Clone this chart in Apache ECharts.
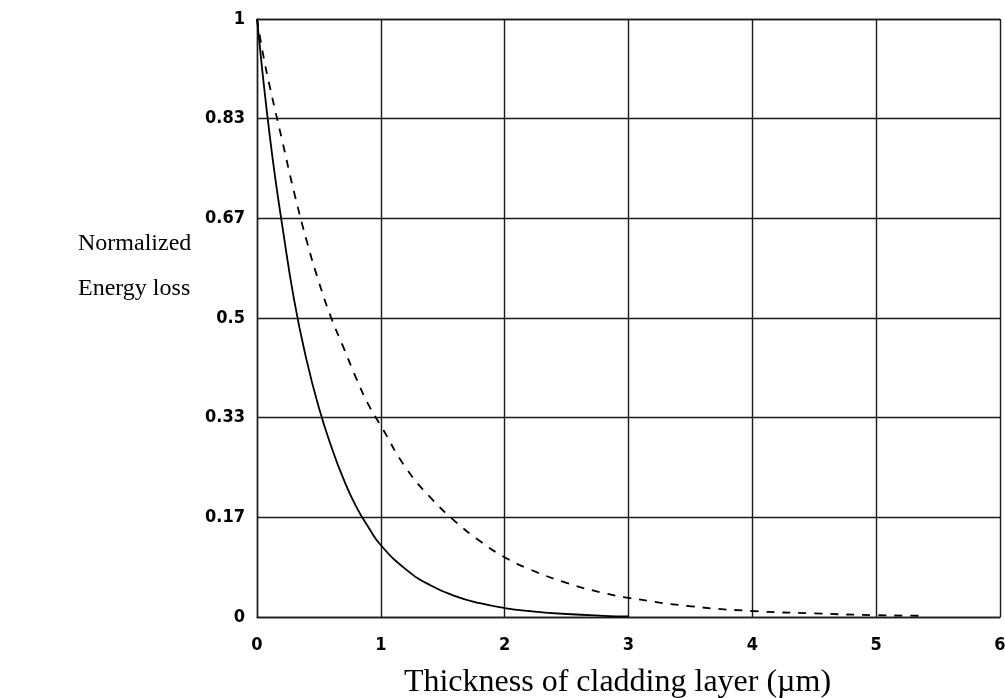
<!DOCTYPE html>
<html>
<head>
<meta charset="utf-8">
<script src="https://cdn.jsdelivr.net/npm/echarts@6/dist/echarts.min.js"></script>
<style>
  html, body { margin: 0; padding: 0; background: #fff; }
</style>
</head>
<body>
<div id="main" style="width: 1005px;height:698px;"></div>
<script>
// thickness of cladding layer (um)
const solidX = [0, 0.02, 0.05, 0.1, 0.15, 0.2, 0.3, 0.4, 0.5, 0.6, 0.7, 0.8, 0.9, 1.0, 1.2, 1.4, 1.6, 1.8, 2.0, 2.2, 2.5, 2.8, 3.0]
const solidY = [1, 0.96, 0.9, 0.81, 0.73, 0.66, 0.53, 0.43, 0.35, 0.285, 0.23, 0.185, 0.15, 0.12, 0.08, 0.053, 0.035, 0.023, 0.015, 0.01, 0.005, 0.002, 0.001]

const dashX = [0, 0.05, 0.1, 0.2, 0.3, 0.4, 0.5, 0.6, 0.7, 0.8, 0.9, 1.0, 1.2, 1.4, 1.6, 1.8, 2.0, 2.2, 2.5, 2.8, 3.0, 3.5, 4.0, 4.5, 5.0, 5.4]
const dashY = [1, 0.94, 0.89, 0.8, 0.71, 0.63, 0.56, 0.5, 0.45, 0.4, 0.355, 0.32, 0.25, 0.2, 0.16, 0.127, 0.1, 0.08, 0.057, 0.04, 0.032, 0.018, 0.01, 0.006, 0.003, 0.002]

const xTicks = [0, 1, 2, 3, 4, 5, 6]
const yTickStep = 1 / 6

const myChart = echarts.init(document.getElementById('main'))

const tickFont = {
  fontFamily: 'DejaVu Sans Condensed',
  fontWeight: 'bold',
  fontSize: 18,
  color: '#000'
}
const gridLine = { color: '#1a1a1a', width: 1.4 }

const option = {
  animation: false,
  grid: { left: 257, right: 5, top: 19, bottom: 81, outerBoundsMode: 'none' },
  graphic: [
    { type: 'text', left: 78, top: 232, style: { text: 'Normalized', font: '24px "Liberation Serif"', fill: '#000' } },
    { type: 'text', left: 78, top: 277, style: { text: 'Energy loss', font: '24px "Liberation Serif"', fill: '#000' } }
  ],
  xAxis: {
    type: 'value',
    min: xTicks[0],
    max: xTicks[xTicks.length - 1],
    interval: 1,
    name: 'Thickness of cladding layer (\u00b5m)',
    nameLocation: 'middle',
    nameGap: 50,
    nameTextStyle: { fontFamily: 'Liberation Serif', fontSize: 32, color: '#000', padding: [0, 22, 0, 0] },
    axisLine: { show: true, lineStyle: gridLine },
    axisTick: { show: false },
    axisLabel: Object.assign({ margin: 19 }, tickFont),
    splitLine: { show: true, lineStyle: gridLine }
  },
  yAxis: {
    type: 'value',
    min: 0,
    max: 1,
    interval: yTickStep,
    axisLine: { show: true, lineStyle: gridLine },
    axisTick: { show: false },
    axisLabel: Object.assign({
      margin: 12,
      formatter: v => String(parseFloat(v.toFixed(2)))
    }, tickFont),
    splitLine: { show: true, lineStyle: gridLine }
  },
  series: [
    {
      type: 'line',
      data: solidX.map((x, i) => [x, solidY[i]]),
      smooth: true,
      showSymbol: false,
      lineStyle: { color: '#000', width: 1.8 }
    },
    {
      type: 'line',
      data: dashX.map((x, i) => [x, dashY[i]]),
      smooth: true,
      showSymbol: false,
      lineStyle: { color: '#000', width: 1.8, type: [8, 8] }
    }
  ]
}

myChart.setOption(option)
</script>
</body>
</html>
